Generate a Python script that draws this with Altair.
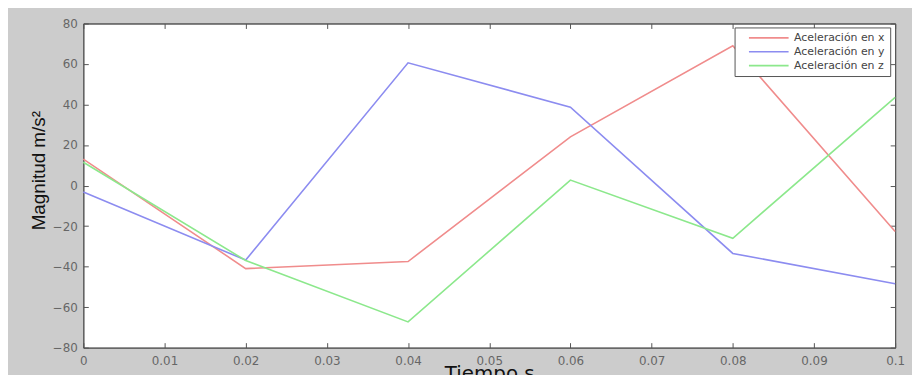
import altair as alt
import pandas as pd

tiempo = [0, 0.02, 0.04, 0.06, 0.08, 0.1]
acel_x = [13, -41, -37.5, 24, 69, -22.7]
acel_y = [-3.2, -36.8, 60.6, 38.7, -33.5, -48.5]
acel_z = [11.5, -37, -67.3, 2.7, -26, 43.5]
series = ["Aceleración en x", "Aceleración en y", "Aceleración en z"]
colors = ["#f08c8c", "#8c8cf0", "#8ce88c"]
x_ticks = [0, 0.01, 0.02, 0.03, 0.04, 0.05, 0.06, 0.07, 0.08, 0.09, 0.1]
y_ticks = [-80, -60, -40, -20, 0, 20, 40, 60, 80]

rows = []
for name, vals in zip(series, [acel_x, acel_y, acel_z]):
    for t, v in zip(tiempo, vals):
        rows.append({"t": t, "v": v, "serie": name})
df = pd.DataFrame(rows)

W, H = 819, 327
neg_tick = {"expr": "-5"}
axis_common = dict(
    domainColor="#555555", tickColor="#555555", labelColor="#666666",
    labelFont="DejaVu Sans", labelFontSize=12, grid=False,
    titleColor="#111111",
)

xs = alt.Scale(domain=[0, 0.1], nice=False, zero=False)
ys = alt.Scale(domain=[-80, 80], nice=False, zero=False)

lines = alt.Chart(df).mark_line(strokeWidth=1.6).encode(
    x=alt.X("t:Q", scale=xs, axis=alt.Axis(
        values=x_ticks, format="~g", title="Tiempo s", titleFontSize=20,
        titleFont="DejaVu Sans", titleFontWeight="normal",
        titleBaseline="alphabetic", titleY=32,
        labelFlush=False, tickSize=neg_tick, labelPadding=13, **axis_common)),
    y=alt.Y("v:Q", scale=ys, axis=alt.Axis(
        values=y_ticks, title="Magnitud m/s²", titleFontSize=19,
        titleFont="Liberation Sans", titleFontWeight="normal",
        titlePadding=4, titleY=148, labelFlush=False,
        tickSize=neg_tick, labelPadding=11, **axis_common)),
    color=alt.Color("serie:N", scale=alt.Scale(domain=series, range=colors),
                    legend=alt.Legend(
                        title=None, orient="none", legendX=657, legendY=4,
                        symbolType="M1,0H11", symbolSize=64, symbolStrokeWidth=1.6,
                        symbolFillColor="transparent",
                        labelFont="DejaVu Sans", labelFontSize=11, labelColor="#444444",
                        labelOffset=44,
                        fillColor="white", strokeColor="#555555", padding=5,
                        rowPadding=2, cornerRadius=0)),
)

frame = alt.Chart(df).mark_line(opacity=0).encode(
    x=alt.X("t:Q", scale=xs, axis=alt.Axis(
        orient="top", values=x_ticks, labels=False, title=None,
        tickSize=neg_tick, **axis_common)),
    y=alt.Y("v:Q", scale=ys, axis=alt.Axis(
        orient="right", values=y_ticks, labels=False, title=None,
        tickSize=neg_tick, **axis_common)),
    detail="serie:N",
)

chart = alt.layer(lines, frame).resolve_axis(x="independent", y="independent").properties(
    width=W, height=H,
    autosize=alt.AutoSizeParams(type="none"),
    padding={"left": 76, "top": 14, "right": 17, "bottom": 26},
    background="#cccccc",
).configure_view(stroke="#555555", fill="white")

chart.save("out.html", embed_options={"renderer": "svg", "actions": False})
